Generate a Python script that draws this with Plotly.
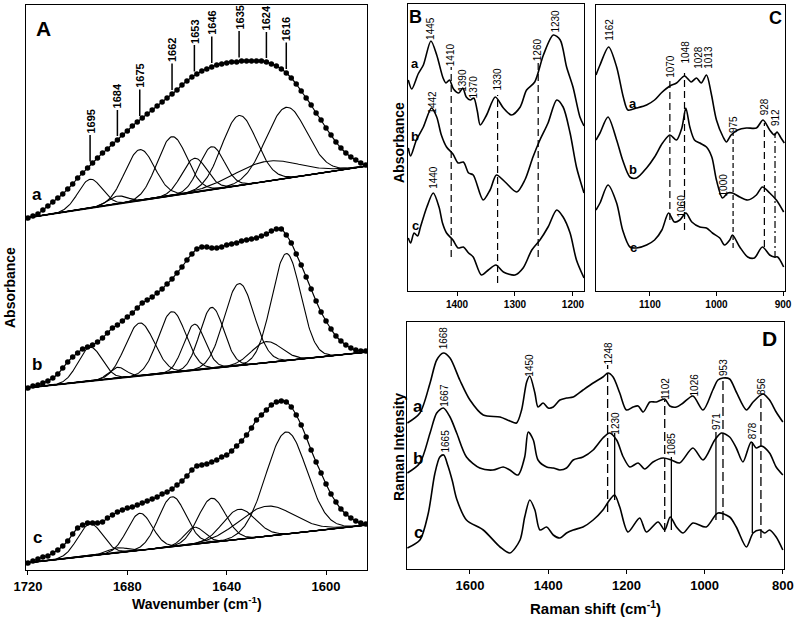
import numpy as np
import plotly.graph_objects as go

FONT = "Liberation Sans, Arial, Helvetica, sans-serif"
W, H = 800, 623

# ================= Panel A : FTIR amide I band fitting =================
A_WN = list(range(1720, 1583, -2))
A_SPEC_A = [7, 9, 11, 15, 19, 23, 27, 31, 36, 41, 47, 52, 57, 62, 67, 72, 76, 81, 85, 90,
            94, 99, 103, 107, 111, 115, 119, 123, 127, 131, 135, 140, 144, 148, 151, 154,
            156, 158, 160, 161, 162, 163, 163, 164, 164, 164, 164, 164, 163, 161, 159, 156,
            152, 147, 141, 134, 127, 120, 112, 105, 97, 90, 83, 77, 72, 68, 65, 62, 60]
A_SPEC_B = [7, 9, 10, 12, 14, 17, 21, 27, 33, 38, 42, 46, 48, 50, 53, 57, 62, 67, 70, 74,
            78, 82, 87, 92, 95, 98, 102, 106, 111, 116, 122, 128, 135, 141, 146, 148, 148,
            147, 147, 148, 150, 151, 152, 154, 155, 156, 157, 159, 161, 164, 166, 166, 160,
            152, 141, 130, 118, 106, 94, 83, 74, 66, 59, 54, 50, 47, 45, 44, 44]
A_SPEC_C = [7, 9, 11, 13, 14, 17, 20, 24, 29, 36, 42, 45, 47, 47, 47, 48, 52, 55, 58, 60,
            62, 63, 65, 67, 69, 71, 73, 76, 78, 81, 85, 89, 94, 100, 104, 105, 106, 108,
            110, 113, 115, 119, 124, 129, 135, 142, 150, 155, 160, 165, 168, 169, 168, 163,
            155, 145, 133, 120, 108, 97, 86, 76, 68, 61, 56, 52, 49, 47, 46]
A_BASE_WN = [1720.8, 1583.5]
A_BASE_A = [7, 59]
A_BASE_B = [7, 43]
A_BASE_C = [7, 45]
A_BANDS = [1695, 1684, 1675, 1662, 1653, 1646, 1635, 1624, 1616]
A_H_A = [29, 8, 51, 59, 34, 43, 70, 20, 71]
A_S_A = [4.8, 4.0, 6.0, 6.0, 5.0, 5.0, 7.0, 13.0, 8.2]
A_H_B = [34, 11, 53, 61, 46, 61, 82, 21, 107]
A_S_B = [4.8, 3.5, 5.8, 5.5, 4.3, 4.8, 6.0, 6.0, 5.8]
A_H_C = [32, 5, 37, 50, 17, 44, 30, 30, 102]
A_S_C = [5.0, 4.0, 5.0, 5.5, 4.0, 5.5, 6.5, 11.0, 8.2]

# ================= Panel B : FTIR 1480-1180 =================
B_WN_A = [1484, 1478, 1467, 1458, 1445, 1435, 1424, 1419, 1413, 1406, 1397, 1390, 1384, 1377,
          1371, 1365, 1360, 1349, 1334, 1320, 1306, 1291, 1280, 1266, 1251, 1234, 1222, 1211,
          1200, 1188, 1181]
B_SPEC_A = [51, 42, 57, 66, 90, 76, 53, 48, 51, 42, 38, 43, 34, 31, 33, 20, 6, 16, 34, 23,
            16, 24, 41, 49, 76, 96, 91, 64, 44, 14, 5]
B_WN_B = [1484, 1480, 1470, 1458, 1444, 1435, 1427, 1418, 1407, 1398, 1389, 1380, 1372, 1355,
          1343, 1332, 1317, 1297, 1283, 1269, 1257, 1243, 1228, 1217, 1205, 1194, 1181]
B_SPEC_B = [58, 50, 66, 79, 98, 89, 71, 59, 52, 43, 44, 33, 31, 6, 16, 31, 24, 14, 26, 49,
            66, 83, 106, 99, 73, 39, 13]
B_WN_C = [1484, 1480, 1474, 1468, 1463, 1452, 1441, 1431, 1425, 1418, 1407, 1398, 1389, 1380,
          1372, 1358, 1346, 1333, 1320, 1300, 1286, 1271, 1257, 1243, 1228, 1217, 1205, 1194,
          1181]
B_SPEC_C = [53, 48, 58, 55, 64, 84, 98, 84, 68, 58, 51, 43, 44, 38, 34, 16, 21, 26, 19, 16,
            23, 41, 51, 64, 81, 74, 58, 31, 13]
B_LAB_A = [1445, 1410, 1390, 1370, 1330, 1260, 1230]
B_LAB_B = [1442]
B_LAB_C = [1440]
B_LINES = [1410, 1330, 1260]

# ================= Panel C : FTIR 1180-900 =================
C_WN_A = [1181, 1175, 1162, 1150, 1140, 1133, 1120, 1105, 1093, 1083, 1070, 1060, 1048, 1038,
          1030, 1023, 1015, 1008, 1000, 990, 985, 978, 968, 955, 940, 930, 920, 913, 909, 903,
          898]
C_SPEC_A = [71, 81, 99, 79, 49, 36, 38, 41, 46, 53, 60, 63, 70, 64, 68, 63, 71, 53, 26, 9, 4,
            11, 16, 18, 18, 26, 16, 11, 14, 8, 3]
C_WN_B = [1181, 1175, 1163, 1150, 1141, 1130, 1120, 1105, 1093, 1081, 1070, 1060, 1052, 1046,
          1040, 1033, 1025, 1015, 1007, 1000, 991, 983, 976, 965, 953, 940, 931, 920, 910, 899]
C_SPEC_B = [76, 83, 99, 76, 56, 39, 38, 48, 59, 73, 81, 76, 88, 108, 89, 76, 73, 69, 59, 36,
            18, 23, 23, 19, 16, 21, 29, 23, 16, 4]
C_WN_C = [1181, 1175, 1163, 1150, 1141, 1130, 1120, 1105, 1093, 1082, 1072, 1063, 1055, 1046,
          1037, 1025, 1015, 1006, 995, 988, 980, 976, 965, 953, 943, 931, 920, 913, 908, 899]
C_SPEC_C = [81, 88, 106, 88, 61, 44, 43, 46, 51, 61, 78, 69, 71, 78, 69, 64, 63, 58, 53, 46,
            51, 56, 44, 34, 33, 44, 36, 34, 34, 24]
C_LAB_A = [1162, 1070, 1048, 1028, 1013, 975, 928, 912]
C_LAB_B = [1000]
C_LAB_C = [1060]
C_LINES = [1070, 1048, 975, 928, 912]

# ================= Panel D : Raman =================
D_WN_A = [1760, 1728, 1702, 1685, 1668, 1651, 1626, 1600, 1566, 1523, 1498, 1481, 1468, 1455,
          1447, 1434, 1426, 1413, 1400, 1387, 1370, 1353, 1336, 1311, 1285, 1260, 1247, 1234,
          1217, 1200, 1183, 1170, 1157, 1140, 1123, 1102, 1089, 1072, 1055, 1030, 1004, 979,
          966, 953, 936, 919, 893, 876, 851, 834, 817, 800]
D_SPEC_A = [6, 16, 46, 69, 76, 71, 49, 29, 14, 12, 8, 6, 19, 47, 53, 36, 22, 26, 21, 22, 29,
            31, 32, 39, 46, 52, 56, 52, 36, 19, 22, 23, 17, 27, 27, 30, 23, 22, 26, 33, 19, 39,
            49, 51, 50, 37, 19, 27, 35, 29, 17, 7]
D_WN_B = [1760, 1728, 1702, 1685, 1668, 1651, 1634, 1609, 1575, 1541, 1515, 1498, 1477, 1460,
          1451, 1438, 1426, 1404, 1387, 1370, 1353, 1336, 1311, 1285, 1260, 1243, 1225, 1208,
          1191, 1170, 1153, 1132, 1106, 1085, 1064, 1030, 1004, 974, 957, 936, 919, 902, 881,
          868, 855, 834, 817, 800]
D_SPEC_B = [31, 41, 71, 91, 96, 87, 71, 47, 36, 34, 37, 34, 29, 47, 72, 64, 44, 37, 36, 34,
            36, 44, 47, 54, 66, 71, 64, 47, 37, 41, 35, 42, 46, 44, 41, 56, 44, 64, 71, 67, 56,
            42, 62, 56, 58, 51, 37, 29]
D_WN_C = [1760, 1728, 1707, 1690, 1677, 1667, 1657, 1645, 1634, 1609, 1566, 1523, 1498, 1472,
          1460, 1447, 1434, 1421, 1404, 1387, 1370, 1353, 1336, 1311, 1285, 1260, 1243, 1230,
          1217, 1196, 1166, 1149, 1119, 1102, 1088, 1072, 1055, 1030, 996, 966, 936, 919, 893,
          876, 859, 846, 834, 817, 800]
D_SPEC_C = [21, 29, 55, 95, 112, 114, 104, 88, 70, 49, 39, 22, 16, 29, 52, 69, 59, 39, 42, 34,
            31, 36, 39, 42, 49, 59, 69, 74, 62, 37, 51, 37, 47, 39, 52, 42, 36, 46, 42, 56, 52,
            42, 22, 36, 39, 36, 39, 32, 19]
D_LAB_A = [1668, 1450, 1248, 1102, 1026, 953, 856]
D_LAB_B = [1667, 1230, 1085, 971, 878]
D_LAB_C = [1665]
D_DASHED = [1248, 1102, 953, 856]
D_SOLID = [1230, 1085, 971, 878]

# ---------------- layout / positions (pixels, offsets, styles) ----------------
A_OFF = {'a': 345, 'b': 175, 'c': 0}
B_OFF = {'a': 160, 'b': 85, 'c': 0}
C_OFF = {'a': 145, 'b': 75, 'c': 0}
D_OFF = {'a': 140, 'b': 65, 'c': 0}
B_LAB_A_Y = [263, 236, 211, 204, 212, 241, 270]
B_LAB_B_Y = [189]
B_LAB_C_Y = [114]
B_LINE_Y = [(34, 224), (8, 196), (34, 231)]
C_LAB_A_Y = [261, 225, 239, 234, 234, 166, 184, 173]
C_LAB_B_Y = [106]
C_LAB_C_Y = [85]
C_LINE_Y = [(71, 213), (61, 218), (43, 158), (44, 168), (33, 158)]
C_LINE_DASH = ['7px,4px', '7px,4px', '5px,3px', '7px,4px', '7px,3px,2px,3px']
D_LAB_A_Y = [231, 204, 216, 180, 184, 202, 183]
D_LAB_B_Y = [174, 146, 125, 148, 138]
D_LAB_C_Y = [128]
D_DASHED_Y = [(57, 204), (37, 169), (49, 191), (31, 174)]
D_SOLID_Y = [(69, 136), (39, 112), (49, 137), (36, 127)]

BLACK = 'black'
fig = go.Figure()


def add_line(x, y, xa, ya, width=1.6, dash='solid', shape='spline'):
    fig.add_trace(go.Scatter(x=x, y=y, mode='lines', xaxis=xa, yaxis=ya,
                             line=dict(color=BLACK, width=width, dash=dash, shape=shape,
                                       smoothing=0.8 if shape == 'spline' else None),
                             hoverinfo='skip', showlegend=False))


# ---- Panel A traces ----
grid = np.linspace(A_BASE_WN[0], A_BASE_WN[1], 400)
for key, spec, base, hs, ss in [('a', A_SPEC_A, A_BASE_A, A_H_A, A_S_A),
                                ('b', A_SPEC_B, A_BASE_B, A_H_B, A_S_B),
                                ('c', A_SPEC_C, A_BASE_C, A_H_C, A_S_C)]:
    off = A_OFF[key]
    base_grid = np.interp(grid[::-1], A_BASE_WN[::-1], base[::-1])[::-1]
    for c, h, s in zip(A_BANDS, hs, ss):
        yb = off + base_grid + h * np.exp(-0.5 * ((grid - c) / s) ** 2)
        add_line(grid, yb, 'x', 'y', width=1.1, shape='linear')
    add_line(A_BASE_WN, [v + off for v in base], 'x', 'y', width=1.4, shape='linear')
    fig.add_trace(go.Scatter(x=A_WN, y=[v + off for v in spec], mode='lines+markers',
                             xaxis='x', yaxis='y',
                             line=dict(color=BLACK, width=1.2, shape='spline'),
                             marker=dict(size=5.5, color=BLACK),
                             hoverinfo='skip', showlegend=False))

# ---- Panel B ----
for key, wn, spec in [('a', B_WN_A, B_SPEC_A), ('b', B_WN_B, B_SPEC_B), ('c', B_WN_C, B_SPEC_C)]:
    add_line(wn, [v + B_OFF[key] for v in spec], 'x2', 'y2')
for wn, (y0, y1) in zip(B_LINES, B_LINE_Y):
    add_line([wn, wn], [y0, y1], 'x2', 'y2', width=1.2, dash='7px,4px', shape='linear')

# ---- Panel C ----
for key, wn, spec in [('a', C_WN_A, C_SPEC_A), ('b', C_WN_B, C_SPEC_B), ('c', C_WN_C, C_SPEC_C)]:
    add_line(wn, [v + C_OFF[key] for v in spec], 'x3', 'y3')
for wn, (y0, y1), dsh in zip(C_LINES, C_LINE_Y, C_LINE_DASH):
    add_line([wn, wn], [y0, y1], 'x3', 'y3', width=1.2, dash=dsh, shape='linear')

# ---- Panel D ----
for key, wn, spec in [('a', D_WN_A, D_SPEC_A), ('b', D_WN_B, D_SPEC_B), ('c', D_WN_C, D_SPEC_C)]:
    add_line(wn, [v + D_OFF[key] for v in spec], 'x4', 'y4')
for wn, (y0, y1) in zip(D_DASHED, D_DASHED_Y):
    add_line([wn, wn], [y0, y1], 'x4', 'y4', width=1.3, dash='9px,4px', shape='linear')
for wn, (y0, y1) in zip(D_SOLID, D_SOLID_Y):
    add_line([wn, wn], [y0, y1], 'x4', 'y4', width=1.3, shape='linear')

# ---------------- annotations ----------------
ann = []


def ptext(px, py, text, size, angle=0, bold=True):
    t = '<b>%s</b>' % text if bold else text
    ann.append(dict(x=px / W, y=1 - py / H, xref='paper', yref='paper', text=t,
                    showarrow=False, textangle=angle, xanchor='center', yanchor='middle',
                    font=dict(family=FONT, size=size, color=BLACK)))


def rlab(x, y, text, xa, ya, size=10, xshift=0):
    ann.append(dict(x=x, y=y, xref=xa, yref=ya, text=str(text), textangle=-90,
                    showarrow=False, xshift=xshift,
                    font=dict(family=FONT, size=size, color=BLACK)))


# A band labels with leader lines (placed on spectrum a)
spec_a_abs = [v + A_OFF['a'] for v in A_SPEC_A]
for wn in A_BANDS:
    yv = float(np.interp(wn, A_WN[::-1], spec_a_abs[::-1]))
    ann.append(dict(x=wn, y=yv, xref='x', yref='y', text='<b>%d</b>' % wn, textangle=-90,
                    showarrow=True, arrowhead=0, arrowwidth=1.5, arrowcolor=BLACK,
                    ax=0, ay=-44, standoff=4,
                    font=dict(family=FONT, size=11, color=BLACK)))

for wn, y in zip(B_LAB_A, B_LAB_A_Y):
    rlab(wn, y, wn, 'x2', 'y2')
for wn, y in zip(B_LAB_B, B_LAB_B_Y):
    rlab(wn, y, wn, 'x2', 'y2')
for wn, y in zip(B_LAB_C, B_LAB_C_Y):
    rlab(wn, y, wn, 'x2', 'y2')
for wn, y in zip(C_LAB_A, C_LAB_A_Y):
    rlab(wn, y, wn, 'x3', 'y3')
for wn, y in zip(C_LAB_B, C_LAB_B_Y):
    rlab(wn, y, wn, 'x3', 'y3', xshift=7)
for wn, y in zip(C_LAB_C, C_LAB_C_Y):
    rlab(wn, y, wn, 'x3', 'y3', xshift=4)
for wn, y in zip(D_LAB_A, D_LAB_A_Y):
    rlab(wn, y, wn, 'x4', 'y4')
for wn, y in zip(D_LAB_B, D_LAB_B_Y):
    rlab(wn, y, wn, 'x4', 'y4')
for wn, y in zip(D_LAB_C, D_LAB_C_Y):
    rlab(wn, y, wn, 'x4', 'y4')

# panel letters and trace letters
ptext(43, 28, 'A', 21)
ptext(415, 17, 'B', 18)
ptext(775, 18, 'C', 18)
ptext(769, 339, 'D', 21)
for t, py in zip('abc', [194, 364, 537]):
    ptext(37, py, t, 17)
for t, py in zip('abc', [63, 136, 226]):
    ptext(415, py, t, 13)
for t, py in zip('abc', [103, 169, 247]):
    ptext(633, py, t, 13)
for t, py in zip('abc', [406, 458, 532]):
    ptext(418, py, t, 17)

# axis titles
ptext(197, 603, 'Wavenumber (cm<sup>-1</sup>)', 14)
ptext(595, 607, 'Raman shift (cm<sup>-1</sup>)', 15)
ptext(10, 288, 'Absorbance', 14, angle=-90)
ptext(399, 143, 'Absorbance', 14, angle=-90)
ptext(399, 447, 'Raman Intensity', 14, angle=-90)


def xax(px0, px1, rng, tickvals, size):
    return dict(domain=[px0 / W, px1 / W], range=rng, tickvals=tickvals,
                ticks='outside', ticklen=4, tickwidth=1, tickcolor=BLACK,
                showline=True, mirror=True, linecolor=BLACK, linewidth=1.3,
                showgrid=False, zeroline=False, automargin=False,
                tickfont=dict(family=FONT, size=size, color=BLACK, weight='bold'))


def yax(py0, py1, rng, anchor):
    return dict(domain=[1 - py1 / H, 1 - py0 / H], range=rng, anchor=anchor,
                showticklabels=False, ticks='', showline=True, mirror=True,
                linecolor=BLACK, linewidth=1.3, showgrid=False, zeroline=False,
                automargin=False)


fig.update_layout(
    width=W, height=H, margin=dict(l=0, r=0, t=0, b=0, pad=0, autoexpand=False),
    paper_bgcolor='white', plot_bgcolor='white', showlegend=False,
    font=dict(family=FONT, color=BLACK),
    xaxis=dict(**xax(26, 367, [1720.8, 1583.5], [1720, 1680, 1640, 1600], 13), anchor='y'),
    yaxis=yax(5, 570, [0, 565], 'x'),
    xaxis2=dict(**xax(408, 584, [1484.5, 1181], [1400, 1300, 1200], 10), anchor='y2'),
    yaxis2=yax(4, 291, [0, 287], 'x2'),
    xaxis3=dict(**xax(596, 785, [1181, 897], [1100, 1000, 900], 10), anchor='y3'),
    yaxis3=yax(5, 291, [0, 286], 'x3'),
    xaxis4=dict(**xax(407, 784, [1761, 797], [1600, 1400, 1200, 1000, 800], 13), anchor='y4'),
    yaxis4=yax(322, 569, [0, 247], 'x4'),
    annotations=ann,
)

fig.write_html("out.html",
               config={'displayModeBar': False, 'staticPlot': True},
               post_script="document.body.style.margin='0px';"
                           "document.body.style.overflow='hidden';")
